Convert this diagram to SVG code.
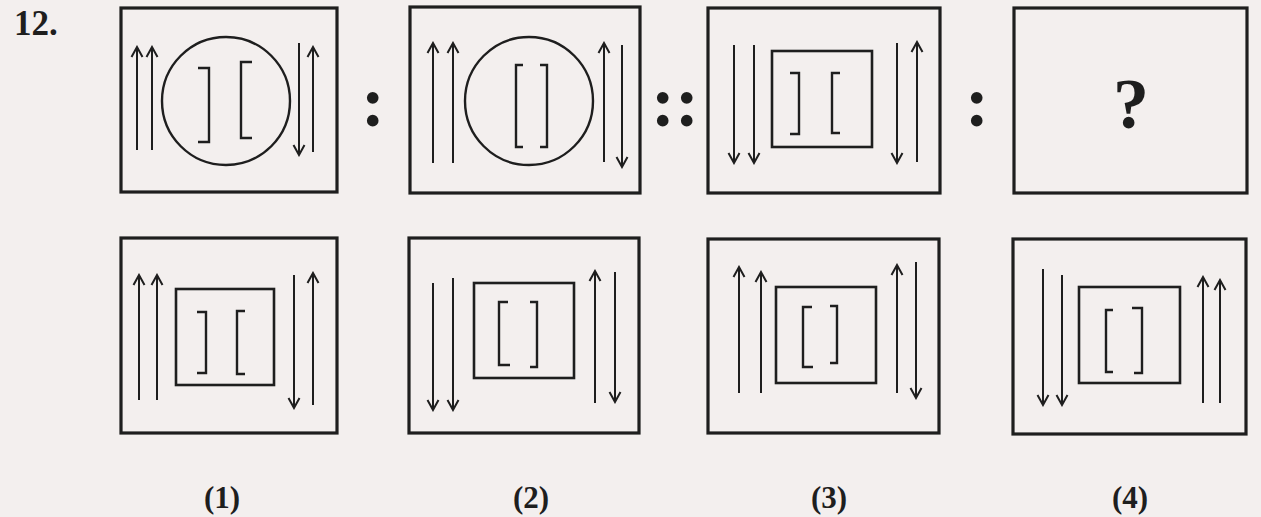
<svg xmlns="http://www.w3.org/2000/svg" width="1261" height="517" viewBox="0 0 1261 517">
<defs>
<marker id="ah" viewBox="0 0 14 14" refX="12" refY="7" markerWidth="14" markerHeight="14" markerUnits="userSpaceOnUse" orient="auto">
<path d="M2,1.5 L12,7 L2,12.5" fill="none" stroke="#1e1e1e" stroke-width="2"/>
</marker>
<style>
.frame{fill:none;stroke:#1e1e1e;stroke-width:3.2}
.inner{fill:none;stroke:#1e1e1e;stroke-width:2.6}
.circ{fill:none;stroke:#1e1e1e;stroke-width:2.4}
.arr{stroke:#1e1e1e;stroke-width:2;fill:none;marker-end:url(#ah)}
.br{fill:none;stroke:#1e1e1e;stroke-width:2.4;stroke-linejoin:miter}
.t{font-family:"Liberation Serif","DejaVu Serif",serif;fill:#1e1e1e}
.colon{font-size:72px;font-weight:bold;text-anchor:middle}
.lab{font-size:31px;font-weight:bold;text-anchor:middle}
</style>
</defs>
<rect width="1261" height="517" fill="#f3efee"/>

<text class="t" x="14" y="35" font-size="35" font-weight="bold">12.</text>

<g id="q1">
<rect class="frame" x="121" y="8" width="216" height="184"/>
<line class="arr" x1="137" y1="150" x2="137" y2="47"/>
<line class="arr" x1="152" y1="150" x2="152" y2="47"/>
<line class="arr" x1="299" y1="43" x2="299" y2="155"/>
<line class="arr" x1="313" y1="152" x2="313" y2="47"/>
<circle class="circ" cx="226" cy="101" r="64"/>
<path class="br" d="M198,68 H209 V142 H198"/>
<path class="br" d="M252,62 H241 V138 H252"/>
</g>

<text class="t colon" x="373" y="126">:</text>

<g id="q2">
<rect class="frame" x="410" y="7" width="230" height="186"/>
<line class="arr" x1="433" y1="163" x2="433" y2="43"/>
<line class="arr" x1="453" y1="163" x2="453" y2="43"/>
<line class="arr" x1="604" y1="162" x2="604" y2="43"/>
<line class="arr" x1="622" y1="45" x2="622" y2="167"/>
<circle class="circ" cx="529" cy="101" r="64"/>
<path class="br" d="M523,65 H516 V147 H523"/>
<path class="br" d="M540,65 H547 V147 H540"/>
</g>

<text class="t colon" x="675" y="126">::</text>

<g id="q3">
<rect class="frame" x="708" y="8" width="232" height="185"/>
<line class="arr" x1="734" y1="45" x2="734" y2="163"/>
<line class="arr" x1="754" y1="45" x2="754" y2="163"/>
<line class="arr" x1="897" y1="43" x2="897" y2="163"/>
<line class="arr" x1="917" y1="162" x2="917" y2="42"/>
<rect class="inner" x="772" y="51" width="100" height="96"/>
<path class="br" d="M790,73 H799 V134 H790"/>
<path class="br" d="M840,73 H832 V133 H840"/>
</g>

<text class="t colon" x="977" y="126">:</text>

<g id="q4">
<rect class="frame" x="1014" y="8" width="233" height="185"/>
<text class="t" x="1131" y="128" font-size="72" font-weight="bold" text-anchor="middle">?</text>
</g>

<g id="opt1">
<rect class="frame" x="121" y="238" width="216" height="195"/>
<line class="arr" x1="139" y1="400" x2="139" y2="275"/>
<line class="arr" x1="157" y1="400" x2="157" y2="275"/>
<line class="arr" x1="294" y1="275" x2="294" y2="408"/>
<line class="arr" x1="313" y1="405" x2="313" y2="273"/>
<rect class="inner" x="176" y="289" width="98" height="96"/>
<path class="br" d="M197,312 H206 V373 H197"/>
<path class="br" d="M245,311 H237 V374 H245"/>
</g>

<g id="opt2">
<rect class="frame" x="409" y="238" width="230" height="195"/>
<line class="arr" x1="433" y1="283" x2="433" y2="410"/>
<line class="arr" x1="453" y1="278" x2="453" y2="410"/>
<line class="arr" x1="595" y1="403" x2="595" y2="271"/>
<line class="arr" x1="615" y1="272" x2="615" y2="402"/>
<rect class="inner" x="474" y="283" width="100" height="95"/>
<path class="br" d="M508,302 H499 V365 H510"/>
<path class="br" d="M530,302 H537 V367 H530"/>
</g>

<g id="opt3">
<rect class="frame" x="708" y="239" width="231" height="194"/>
<line class="arr" x1="739" y1="393" x2="739" y2="267"/>
<line class="arr" x1="761" y1="393" x2="761" y2="272"/>
<line class="arr" x1="897" y1="393" x2="897" y2="265"/>
<line class="arr" x1="916" y1="262" x2="916" y2="398"/>
<rect class="inner" x="776" y="287" width="100" height="96"/>
<path class="br" d="M812,307 H803 V367 H813"/>
<path class="br" d="M830,306 H837 V363 H830"/>
</g>

<g id="opt4">
<rect class="frame" x="1013" y="239" width="233" height="195"/>
<line class="arr" x1="1043" y1="269" x2="1043" y2="405"/>
<line class="arr" x1="1062" y1="275" x2="1062" y2="405"/>
<line class="arr" x1="1203" y1="403" x2="1203" y2="277"/>
<line class="arr" x1="1220" y1="403" x2="1220" y2="280"/>
<rect class="inner" x="1079" y="287" width="101" height="96"/>
<path class="br" d="M1113,310 H1106 V372 H1113"/>
<path class="br" d="M1132,308 H1142 V373 H1134"/>
</g>

<g id="labels">
<text class="t lab" x="222" y="508">(1)</text>
<text class="t lab" x="531" y="508">(2)</text>
<text class="t lab" x="829" y="508">(3)</text>
<text class="t lab" x="1130" y="508">(4)</text>
</g>
</svg>
